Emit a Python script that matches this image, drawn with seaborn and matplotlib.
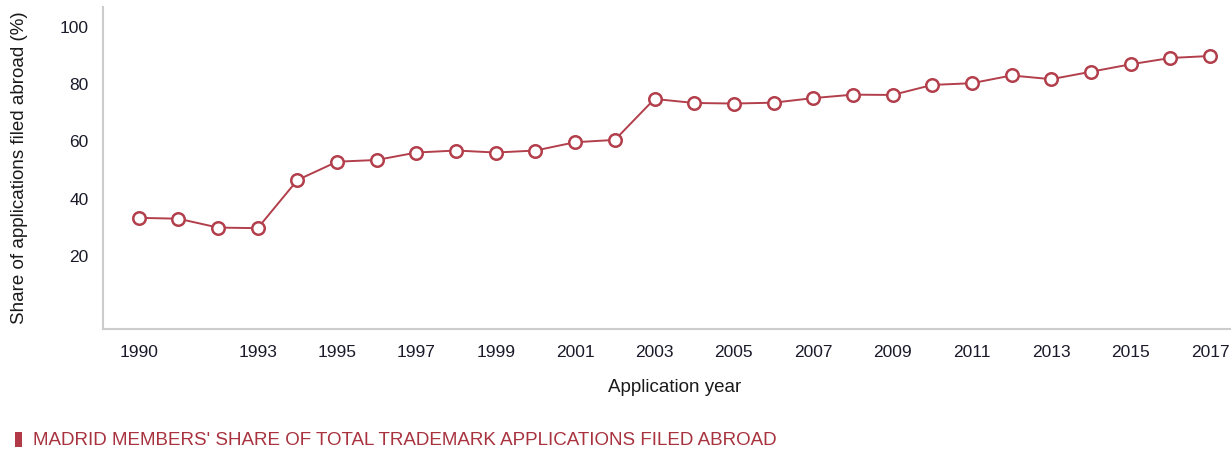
import matplotlib
matplotlib.use("Agg")
import matplotlib.pyplot as plt
import seaborn as sns
import pandas as pd
from matplotlib.patches import Rectangle

years = list(range(1990, 2018))
share = [33.0, 32.7, 29.6, 29.4, 46.2, 52.6, 53.2, 55.8, 56.5, 55.8, 56.5, 59.4, 60.2,
         74.5, 73.1, 72.9, 73.2, 74.8, 76.0, 75.9, 79.4, 80.0, 82.7, 81.4, 84.0, 86.6, 88.8, 89.5]
xticks = [1990, 1993, 1995, 1997, 1999, 2001, 2003, 2005, 2007, 2009, 2011, 2013, 2015, 2017]
yticks = [20, 40, 60, 80, 100]
legend_label = "MADRID MEMBERS' SHARE OF TOTAL TRADEMARK APPLICATIONS FILED ABROAD"

df = pd.DataFrame({"year": years, "share": share})

sns.set_theme(style="white")
plt.rcParams['font.family'] = ['Liberation Sans', 'DejaVu Sans']

line_color = "#b23f4b"
fig = plt.figure(figsize=(12.31, 4.52), dpi=100)
ax = fig.add_axes([103/1231, 1 - 330/452, (1231 - 103)/1231, (330 - 8)/452])

sns.lineplot(data=df, x="year", y="share", ax=ax, color=line_color, linewidth=1.4,
             marker="o", markersize=9, markerfacecolor="white",
             markeredgecolor=line_color, markeredgewidth=1.8)

ax.set_xlim(1989.1, 2017.53)
ax.set_ylim(-5.8, 106.6)
ax.set_xticks(xticks)
ax.set_yticks(yticks)
ax.tick_params(axis="both", labelsize=12.5, colors="#1a1a2a", length=0)
ax.tick_params(axis="x", pad=11)
ax.tick_params(axis="y", pad=10.5)
for s in ["top", "right"]:
    ax.spines[s].set_visible(False)
for s in ["left", "bottom"]:
    ax.spines[s].set_color("#cccccc")
    ax.spines[s].set_linewidth(1.5)

ax.set_xlabel("Application year", fontsize=13.5, color="#1a1a1a")
ax.xaxis.set_label_coords((675 - 103)/1128, -(388 - 330)/322)
ax.xaxis.label.set_va("center")
ax.set_ylabel("Share of applications filed abroad (%)", fontsize=13.5, color="#1a1a1a")
ax.yaxis.set_label_coords(-(103 - 20)/1128, (330 - 168)/322)
ax.yaxis.label.set_va("center")

fig.patches.append(Rectangle((15/1231, 1 - 448/452), 7/1231, 15/452,
                             transform=fig.transFigure, facecolor="#b23a48", edgecolor="none"))
fig.text(33/1231, 1 - 441/452, legend_label, fontsize=13.5, color="#a8323e", va="center", ha="left")

fig.savefig("out.png", dpi=100)
